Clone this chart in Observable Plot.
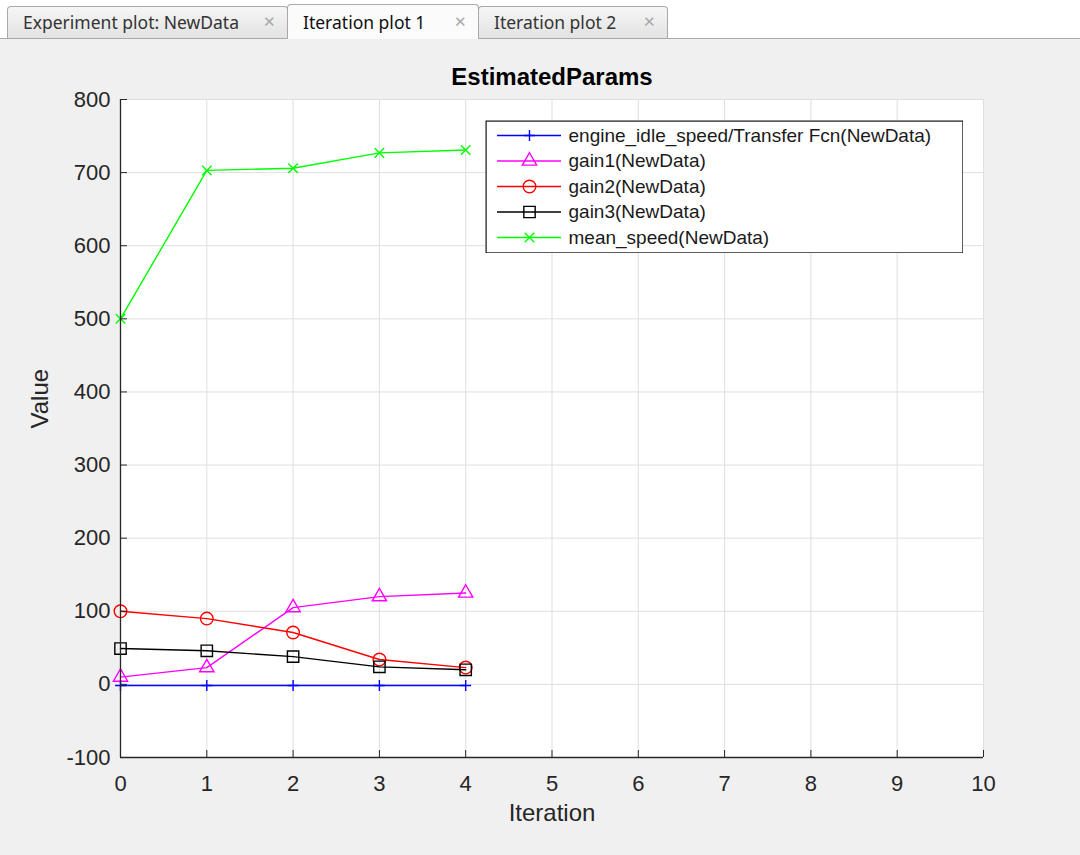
<!DOCTYPE html>
<html>
<head>
<meta charset="utf-8">
<script src="https://cdn.jsdelivr.net/npm/d3@7"></script>
<script src="https://cdn.jsdelivr.net/npm/@observablehq/plot@0.6"></script>
<style>
  html, body { margin: 0; padding: 0; background: #f0f0f0; }
  #page { position: relative; width: 1080px; height: 855px; overflow: hidden; background: #f0f0f0; }
  #tabstrip { position: absolute; left: 0; top: 0; width: 1080px; height: 38px; background: #ffffff; border-bottom: 1px solid #a9a9a9; z-index: 2; }
  .tab { position: absolute; top: 6px; height: 32px; box-sizing: border-box; border: 1px solid #a9a9a9; border-bottom: none;
         border-radius: 4px 4px 0 0; background: linear-gradient(#f6f6f6, #e2e2e2);
         font-family: "Noto Sans", "Open Sans", sans-serif; font-size: 17.5px; color: #333; line-height: 30px; padding-left: 15px; white-space: nowrap; }
  .tab.active { top: 4px; height: 35px; background: #fbfbfb; color: #111; line-height: 34px; }
  .tab .x { position: absolute; top: 0; font-family: "DejaVu Sans", sans-serif; font-size: 15px; color: #a8a8a8; }
  #chart { position: absolute; left: 0; top: 0; z-index: 1; }
  #legend { position: absolute; left: 485px; top: 120px; z-index: 3; }
</style>
</head>
<body>
<div id="page">
  <div id="tabstrip"></div>
  <div id="chart"></div>
  <div id="legend"></div>
</div>
<script>
// ---- data ----
const iterations = [0, 1, 2, 3, 4];
const engineIdleSpeed = [-1.5, -1.5, -1.5, -1.5, -1.5];
const gain1 = [10, 23, 105, 120, 125];
const gain2 = [100, 90, 71, 34, 23];
const gain3 = [49, 46, 38, 24, 20];
const meanSpeed = [500, 703, 706, 727, 731];

const seriesNames = [
  "engine_idle_speed/Transfer Fcn(NewData)",
  "gain1(NewData)",
  "gain2(NewData)",
  "gain3(NewData)",
  "mean_speed(NewData)"
];
const seriesValues = [engineIdleSpeed, gain1, gain2, gain3, meanSpeed];
const seriesColors = ["#0000ff", "#ff00ff", "#ff0000", "#000000", "#00ff00"];
const seriesSymbols = ["plus", "triangle", "circle", "square", "times"];
const seriesR = [3.6, 5.3, 6.3, 6.4, 4.4];

const xTicks = [0, 1, 2, 3, 4, 5, 6, 7, 8, 9, 10];
const yTicks = [-100, 0, 100, 200, 300, 400, 500, 600, 700, 800];
const xDomain = [0, 10];
const yDomain = [-100, 800];

const tabLabels = ["Experiment plot: NewData", "Iteration plot 1", "Iteration plot 2"];
const titleText = "EstimatedParams";
const xLabel = "Iteration";
const yLabel = "Value";

// ---- tabs ----
const tabGeom = [{left: 7, width: 281}, {left: 287, width: 192}, {left: 478, width: 190}];
const strip = document.getElementById("tabstrip");
tabLabels.forEach((t, i) => {
  const d = document.createElement("div");
  d.className = "tab" + (i === 1 ? " active" : "");
  d.style.left = tabGeom[i].left + "px";
  d.style.width = tabGeom[i].width + "px";
  d.textContent = t;
  const x = document.createElement("span");
  x.className = "x";
  x.textContent = "\u2715";
  x.style.left = (tabGeom[i].width - 26) + "px";
  d.appendChild(x);
  strip.appendChild(d);
});

// ---- table ----
const table = [];
seriesNames.forEach((name, s) => {
  iterations.forEach((it, i) => table.push({series: name, s, iteration: it, value: seriesValues[s][i]}));
});

const ink = "#262626";
const font = "'Liberation Sans', Arial, Helvetica, sans-serif";
const lw = 1.4;

const dataMarks = [];
seriesNames.forEach((name, s) => {
  const rows = table.filter(d => d.s === s);
  dataMarks.push(Plot.line(rows, {x: "iteration", y: "value", stroke: seriesColors[s], strokeWidth: lw}));
  dataMarks.push(Plot.dot(rows, {x: "iteration", y: "value", stroke: seriesColors[s], fill: "none",
    symbol: seriesSymbols[s], r: seriesR[s], strokeWidth: lw}));
});

const fmt = d => String(d);

const chart = Plot.plot({
  width: 1080,
  height: 855,
  marginTop: 99,
  marginBottom: 98,
  marginLeft: 120,
  marginRight: 97,
  style: {background: "transparent", fontFamily: font, color: ink},
  x: {domain: xDomain, axis: null},
  y: {domain: yDomain, axis: null},
  marks: [
    Plot.frame({fill: "white", stroke: null}),
    Plot.gridX(xTicks, {stroke: "#dfdfdf", strokeOpacity: 1}),
    Plot.gridY(yTicks, {stroke: "#dfdfdf", strokeOpacity: 1}),
    ...dataMarks,
    Plot.ruleX([xDomain[0]], {stroke: ink, strokeWidth: 1.3}),
    Plot.ruleY([yDomain[0]], {stroke: ink, strokeWidth: 1.3}),
    Plot.axisX(xTicks, {anchor: "bottom", tickSize: -7, tickPadding: 25, fontSize: 22, label: null, color: ink, tickFormat: fmt}),
    Plot.axisY(yTicks, {anchor: "left", tickSize: -7, tickPadding: 17, fontSize: 22, label: null, color: ink, tickFormat: fmt}),
    Plot.text([titleText], {frameAnchor: "top", lineAnchor: "middle", dy: -22, fontSize: 24, fontWeight: "bold", fill: "#000"}),
    Plot.text([xLabel], {frameAnchor: "bottom", lineAnchor: "middle", dy: 56, fontSize: 24, fill: ink}),
    Plot.text([yLabel], {frameAnchor: "left", lineAnchor: "middle", dx: -80, rotate: -90, fontSize: 24, fill: ink})
  ]
});
document.getElementById("chart").appendChild(chart);

// ---- legend ----
const legendRows = seriesNames.map((name, s) => ({name, s, y: 15 + s * 25.5}));
const legend = Plot.plot({
  width: 478,
  height: 133,
  margin: 0,
  style: {background: "white", fontFamily: font, color: "#000"},
  x: {type: "identity", axis: null},
  y: {type: "identity", axis: null},
  marks: [
    Plot.frame({stroke: ink, strokeWidth: 1.3, inset: 0.6}),
    ...legendRows.map(r => Plot.ruleY([r], {y: "y", x1: 12, x2: 76, stroke: seriesColors[r.s], strokeWidth: lw})),
    ...legendRows.map(r => Plot.dot([r], {x: 44, y: "y", symbol: seriesSymbols[r.s], r: seriesR[r.s], stroke: seriesColors[r.s], fill: "none", strokeWidth: lw})),
    Plot.text(legendRows, {x: 83, y: "y", text: "name", textAnchor: "start", fontSize: 19, fill: "#1a1a1a"})
  ]
});
document.getElementById("legend").appendChild(legend);
</script>
</body>
</html>
